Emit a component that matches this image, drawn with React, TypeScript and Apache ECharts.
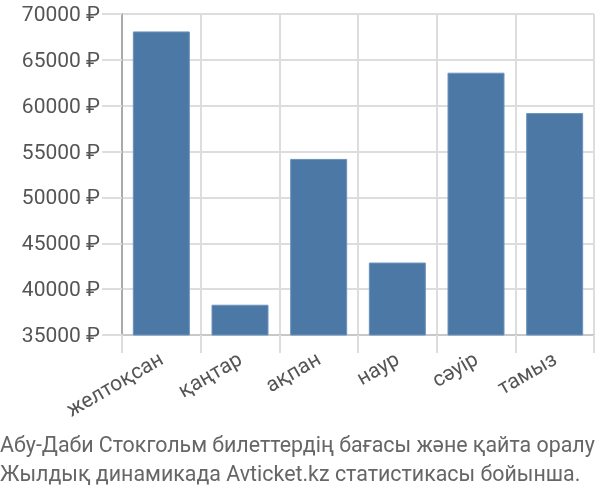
import React, { useEffect, useRef } from 'react';
import * as echarts from 'echarts';

const months = ['желтоқсан', 'қаңтар', 'ақпан', 'наур', 'сәуір', 'тамыз'];
const prices = [68100, 38300, 54200, 42900, 63600, 59200];
const captionLines = [
  'Абу-Даби Стокгольм билеттердің бағасы және қайта оралу',
  'Жылдық динамикада Avticket.kz статистикасы бойынша.'
];

const App = () => {
  const chartRef = useRef<HTMLDivElement>(null);

  useEffect(() => {
    const chart = echarts.init(chartRef.current!, null, { renderer: 'svg' });

    chart.setOption({
      animation: false,
      textStyle: { fontFamily: 'Roboto' },
      grid: { left: 122, right: 6, top: 14, bottom: 165, containLabel: false },
      xAxis: {
        type: 'category',
        data: months,
        boundaryGap: true,
        axisLine: { show: true, lineStyle: { color: '#c8c8c8', width: 2 } },
        axisTick: { show: true, length: 18, lineStyle: { color: '#dddddd', width: 2 } },
        splitLine: { show: true, lineStyle: { color: '#dddddd', width: 2 } },
        axisLabel: {
          rotate: 30,
          fontSize: 21,
          fontFamily: 'Roboto',
          color: '#555555',
          margin: 22,
          interval: 0
        }
      },
      yAxis: {
        type: 'value',
        min: 35000,
        max: 70000,
        interval: 5000,
        axisLine: { show: true, lineStyle: { color: '#aaaaaa', width: 2 } },
        axisTick: { show: true, length: 20, lineStyle: { color: '#dddddd', width: 2 } },
        splitLine: { show: true, lineStyle: { color: '#dddddd', width: 2 } },
        axisLabel: {
          fontSize: 21,
          fontFamily: 'Roboto',
          color: '#555555',
          margin: 22,
          formatter: (v: number) => `${v} ₽`
        }
      },
      series: [
        {
          type: 'bar',
          data: prices,
          barWidth: 57,
          itemStyle: { color: '#4c78a6', borderColor: '#6d93bd', borderWidth: 1 }
        }
      ],
      graphic: captionLines.map((line, i) => ({
        type: 'text',
        left: 0,
        top: 434 + i * 29,
        style: {
          text: line,
          fontSize: 21.4,
          fontFamily: 'Roboto',
          fill: '#666666'
        }
      }))
    });

    return () => {
      chart.dispose();
    };
  }, []);

  return (
    <div
      ref={chartRef}
      style={{ position: 'fixed', left: 0, top: 0, width: 600, height: 500 }}
    ></div>
  );
};

export default App;
